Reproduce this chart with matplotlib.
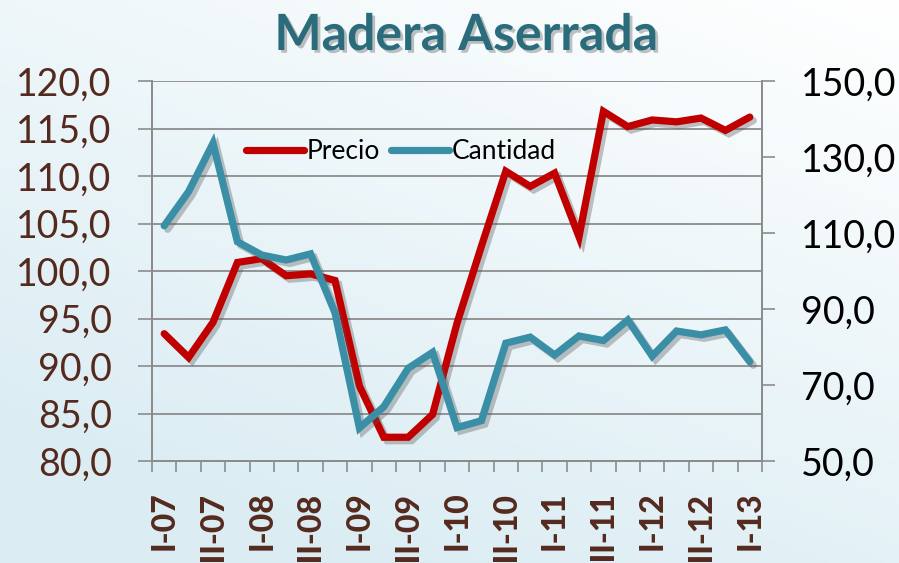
import numpy as np
import matplotlib.pyplot as plt
import matplotlib.patheffects as pe

# quarters I-07 .. I-13
quarters = ['I-07', 'II-07', 'III-07', 'IV-07',
            'I-08', 'II-08', 'III-08', 'IV-08',
            'I-09', 'II-09', 'III-09', 'IV-09',
            'I-10', 'II-10', 'III-10', 'IV-10',
            'I-11', 'II-11', 'III-11', 'IV-11',
            'I-12', 'II-12', 'III-12', 'IV-12',
            'I-13']

precio = [93.4, 90.9, 94.6, 100.9, 101.3, 99.5, 99.7, 99.0,
          87.9, 82.5, 82.5, 84.9, 94.5, 102.6, 110.5, 108.9,
          110.3, 103.6, 116.8, 115.2, 115.9, 115.7, 116.1, 114.8,
          116.2]

cantidad = [111.9, 120.9, 133.6, 107.7, 104.2, 102.9, 104.5, 89.0,
            58.7, 64.3, 74.4, 78.6, 58.8, 60.6, 81.0, 82.6,
            77.9, 82.9, 81.7, 87.1, 77.6, 84.2, 83.2, 84.5,
            76.1]

left_ticks = [80, 85, 90, 95, 100, 105, 110, 115, 120]
right_ticks = [50, 70, 90, 110, 130, 150]

RED = '#C00000'
TEAL = '#3A8EA6'
BROWN = '#552A1E'
GRID = '#8C8C8C'

plt.rcParams['font.family'] = ['Lato', 'DejaVu Sans']

fig = plt.figure(figsize=(8.99, 5.63), dpi=100)

# background gradient
bg = fig.add_axes([0, 0, 1, 1], zorder=-10)
gy, gx = np.mgrid[0:1:200j, 0:1:200j]
t = np.clip(0.75 * gy + 0.45 * (1 - gx), 0, 1)
c0 = np.array([1.0, 1.0, 1.0])
c1 = np.array([0.86, 0.93, 0.955])
img = c0 + (c1 - c0) * t[..., None]
bg.imshow(img, aspect='auto', extent=[0, 1, 0, 1], origin='upper')
bg.axis('off')

ax = fig.add_axes([152 / 899, 1 - 461 / 563, 610 / 899, 380 / 563])
ax.set_facecolor('none')
ax2 = ax.twinx()

x = np.arange(len(quarters))
shadow = [pe.SimpleLineShadow(offset=(2.5, -2.5), alpha=0.35, shadow_color='#555555'), pe.Normal()]
l1, = ax.plot(x, precio, color=RED, lw=5.2, solid_capstyle='round',
              solid_joinstyle='miter', path_effects=shadow, label='Precio', zorder=3)
l2, = ax2.plot(x, cantidad, color=TEAL, lw=5.2, solid_capstyle='round',
               solid_joinstyle='miter', path_effects=shadow, label='Cantidad', zorder=3)

ax.set_xlim(-0.5, len(quarters) - 0.5)
ax.set_ylim(80, 120)
ax2.set_ylim(50, 150)

ax.set_yticks(left_ticks)
ax.set_yticklabels([f'{v:.1f}'.replace('.', ',') for v in left_ticks])
ax2.set_yticks(right_ticks)
ax2.set_yticklabels([f'{v:.1f}'.replace('.', ',') for v in right_ticks])

ax.set_xticks(x[::2])
ax.set_xticklabels(quarters[::2], rotation=90, fontsize=23, fontweight=900, color=BROWN)
ax.set_xticks(np.arange(-0.5, len(quarters), 1), minor=True)
ax.tick_params(axis='x', which='major', length=0, pad=22)
ax.tick_params(axis='x', which='minor', length=8, width=1.2, color=GRID, direction='out')
ax.tick_params(axis='y', length=10, width=1.2, color=GRID, labelsize=27, labelcolor=BROWN, pad=19)
ax2.tick_params(axis='y', length=9, width=1.2, color=GRID, labelsize=27, labelcolor='black', pad=19)

ax.grid(axis='y', color=GRID, lw=1.3)
ax.set_axisbelow(True)
for a in (ax, ax2):
    a.spines['top'].set_visible(False)
    for s in ('left', 'right', 'bottom'):
        a.spines[s].set_color(GRID)
        a.spines[s].set_linewidth(1.3)

leg = fig.legend([l1, l2], ['Precio', 'Cantidad'], loc='center left',
                 bbox_to_anchor=(246 / 899, 1 - 152 / 563), ncol=2, frameon=False,
                 fontsize=19, handlelength=2.2, handletextpad=0.1, columnspacing=0.4,
                 borderpad=0, borderaxespad=0)
for h in leg.legend_handles:
    h.set_path_effects([])

fig.text(466 / 899, 1 - 50 / 563, 'Madera Aserrada', ha='center', va='baseline',
         fontsize=36, fontweight='bold', color='#2B6C7C',
         path_effects=[pe.withSimplePatchShadow(offset=(2, -2), shadow_rgbFace='#777777', alpha=0.45)])

fig.savefig('out.png', dpi=100)
